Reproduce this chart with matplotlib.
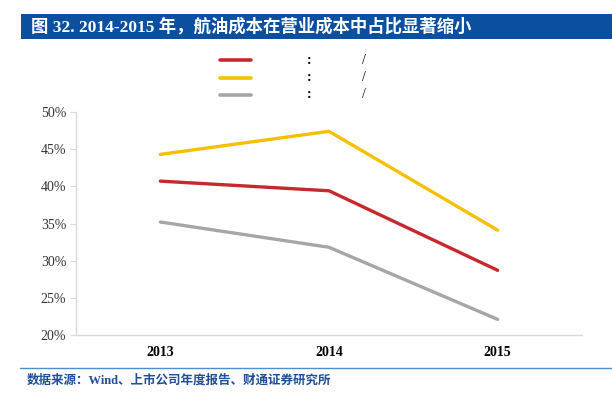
import matplotlib
matplotlib.use("Agg")
import matplotlib.pyplot as plt
from matplotlib.patches import Rectangle
from matplotlib.lines import Line2D

years = ["2013", "2014", "2015"]
red_vals = [40.7, 39.4, 28.7]
yellow_vals = [44.3, 47.4, 34.1]
gray_vals = [35.2, 31.8, 22.1]
y_ticks = [20, 25, 30, 35, 40, 45, 50]
legend_colons = [":", ":", ":"]
legend_slashes = ["/", "/", "/"]

title = "图 32. 2014-2015 年，航油成本在营业成本中占比显著缩小"
source = "数据来源：Wind、上市公司年度报告、财通证券研究所"

W, H = 612, 394
fig = plt.figure(figsize=(W / 100, H / 100), dpi=100)

cjk = ["Liberation Serif", "Noto Sans CJK SC"]

def fx(px):
    return px / W

def fy(py):
    return 1 - py / H

# Title bar
fig.patches.append(Rectangle((fx(21), fy(38.5)), (W - 21) / W, 24.5 / H,
                             transform=fig.transFigure, facecolor="#0b4fa0",
                             edgecolor="none", zorder=0))
fig.text(fx(31), fy(26.5), title, color="white", fontsize=12.5,
         fontweight="bold", family=cjk, va="center", ha="left")

ax = fig.add_axes([fx(76), fy(335), (582 - 76) / W, (335 - 112) / H])
x = list(range(len(years)))
colors = ["#c8282d", "#f5c000", "#a6a6a6"]
series = [red_vals, yellow_vals, gray_vals]
for vals, c in zip(series, colors):
    ax.plot(x, vals, color=c, lw=2.4, solid_capstyle="round")

ax.set_xlim(-0.5, 2.5)
ax.set_ylim(20, 50)
ax.set_yticks(y_ticks)
ax.set_yticklabels([f"{v}%" for v in y_ticks], family="Liberation Serif",
                   fontsize=10, color="#333333")
ax.set_xticks(x)
ax.set_xticklabels(years, family="Liberation Serif", fontsize=10,
                   fontweight="bold")
ax.tick_params(axis="x", length=0, pad=8)
ax.tick_params(axis="y", length=4, color="#d9d9d9", pad=3)
for s in ["top", "right"]:
    ax.spines[s].set_visible(False)
for s in ["left", "bottom"]:
    ax.spines[s].set_color("#d9d9d9")
    ax.spines[s].set_linewidth(1)

# Legend (drawn manually)
leg_y = [60, 77.5, 95]
for c, yy, col, sl in zip(colors, leg_y, legend_colons, legend_slashes):
    fig.add_artist(Line2D([fx(220), fx(251)], [fy(yy), fy(yy)],
                          transform=fig.transFigure, color=c, lw=2.6,
                          solid_capstyle="round"))
    fig.text(fx(309), fy(yy), col, family="Liberation Serif", fontsize=10,
             fontweight="bold", ha="center", va="center")
    fig.text(fx(364), fy(yy), sl, family="Liberation Serif", fontsize=10,
             ha="center", va="center")

# Bottom rule and source
fig.add_artist(Line2D([fx(20), 1], [fy(368), fy(368)],
                      transform=fig.transFigure, color="#4a90d0", lw=1))
fig.text(fx(27), fy(381), source, color="#1f4e9a", fontsize=9,
         fontweight="bold", family=cjk, va="center", ha="left")

fig.savefig("out.png", dpi=100)
